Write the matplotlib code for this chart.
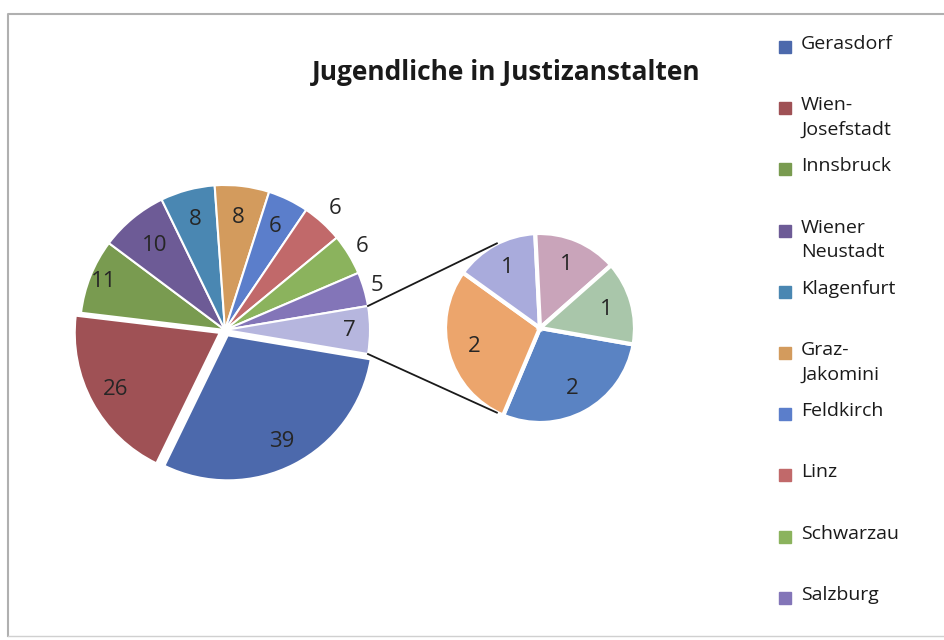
import matplotlib.pyplot as plt
import numpy as np
from matplotlib.patches import Rectangle

plt.rcParams["font.family"] = ["Open Sans", "DejaVu Sans"]

# main pie: the ten institutions + "other" (split into the small pie)
names = ["Gerasdorf", "Wien-\nJosefstadt", "Innsbruck", "Wiener\nNeustadt",
         "Klagenfurt", "Graz-\nJakomini", "Feldkirch", "Linz",
         "Schwarzau", "Salzburg"]
main_vals = [39, 26, 11, 10, 8, 8, 6, 6, 6, 5]
other_vals = [2, 2, 1, 1, 1]

main_colors = ["#4c69ac", "#9f5155", "#799b50", "#6d5b96", "#4a87b2",
               "#d39b5d", "#5b7ecb", "#c1696a", "#8bb35d", "#8375b8"]
other_color = "#b6b6de"
sub_colors = ["#5a83c3", "#eca56c", "#a9abdc", "#c9a4ba", "#a9c6aa"]

fig = plt.figure(figsize=(9.45, 6.4), dpi=100)
ax = fig.add_axes([0, 0, 1, 1])

# frame of the chart area
ax.plot([8, 8, 960], [4, 626, 626], color="#b0b0b0", lw=1.5, clip_on=False)
ax.plot([8, 960], [4, 4], color="#d0d0d0", lw=1.0)

vals = main_vals + [sum(other_vals)]
start = -vals[-1] / sum(vals) * 180
# explode is in data units here (pixels)
explode = [6, 6] + [0] * (len(vals) - 2)
wedges, _ = ax.pie(vals, colors=main_colors + [other_color], center=(225, 310),
                   radius=145, startangle=start, counterclock=False,
                   explode=explode, frame=True,
                   wedgeprops=dict(edgecolor="white", linewidth=1.5))

dist = [0.82, 0.82, 0.9, 0.76, 0.79, 0.78, 0.79, 1.13, 1.11, 1.09, 0.86]
for w, v, d in zip(wedges, vals, dist):
    a = np.deg2rad((w.theta1 + w.theta2) / 2)
    cx, cy = w.center
    ax.text(cx + d * w.r * np.cos(a), cy + d * w.r * np.sin(a), str(v),
            ha="center", va="center", fontsize=16, color="#262626")

sub_center = (540, 312)
sub_r = 95
sw, _ = ax.pie(other_vals, colors=sub_colors, center=sub_center, radius=sub_r,
               startangle=-10, counterclock=False, frame=True,
               wedgeprops=dict(edgecolor="white", linewidth=3))
for w, v in zip(sw, other_vals):
    a = np.deg2rad((w.theta1 + w.theta2) / 2)
    ax.text(sub_center[0] + 0.72 * sub_r * np.cos(a),
            sub_center[1] + 0.72 * sub_r * np.sin(a), str(v),
            ha="center", va="center", fontsize=16, color="#262626")

# connector lines from the "other" slice to the small pie
ow = wedges[-1]
for t_main, t_sub in [(ow.theta1, -117), (ow.theta2, 117)]:
    x0 = ow.center[0] + ow.r * np.cos(np.deg2rad(t_main))
    y0 = ow.center[1] + ow.r * np.sin(np.deg2rad(t_main))
    x1 = sub_center[0] + sub_r * np.cos(np.deg2rad(t_sub))
    y1 = sub_center[1] + sub_r * np.sin(np.deg2rad(t_sub))
    ax.plot([x0, x1], [y0, y1], color="#1a1a1a", lw=1.3)

ax.text(506, 567, "Jugendliche in Justizanstalten", ha="center", va="center",
        fontsize=19, fontweight="bold", color="#1a1a1a")

# legend
for i, (name, c) in enumerate(zip(names, main_colors)):
    y = 640 - (47 + i * 61.2)
    ax.add_patch(Rectangle((779, y - 6), 12, 12, color=c))
    ax.text(801, y + 12, name, ha="left", va="top", fontsize=14,
            linespacing=1.45, color="#1a1a1a")

ax.set_xlim(0, 945)
ax.set_ylim(0, 640)
ax.set_aspect("equal")
ax.axis("off")

fig.savefig("out.png", dpi=100)
